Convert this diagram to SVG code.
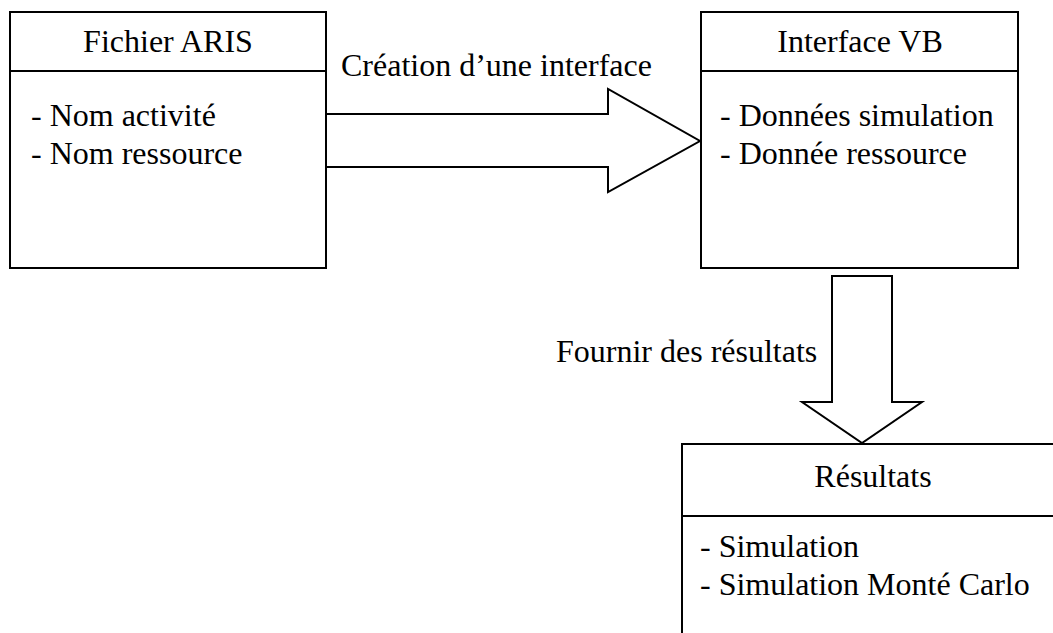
<svg xmlns="http://www.w3.org/2000/svg" width="1053" height="633" viewBox="0 0 1053 633">
<style>
.box{fill:#fff;stroke:#000;stroke-width:2}
.ln{stroke:#000;stroke-width:2;fill:none}
.arr{fill:#fff;stroke:#000;stroke-width:2;stroke-linejoin:miter}
text{font-family:"Liberation Serif","Times New Roman",serif;font-size:32px;fill:#000}
.c{text-anchor:middle}
</style>
<rect width="1053" height="633" fill="#fff"/>
<g id="connectors">
<path class="arr" d="M326,114 H608 V89 L700,141 L608,192 V167 H326"/>
<path class="arr" d="M832,276 H892 V402 H922 L862,443 L802,402 H832 Z"/>
<text x="341" y="76">Création d’une interface</text>
<text x="556" y="362">Fournir des résultats</text>
</g>
<g id="fichier-aris">
<rect class="box" x="10" y="12" width="316" height="256"/>
<line class="ln" x1="10" y1="71" x2="326" y2="71"/>
<text class="c" x="168" y="52">Fichier ARIS</text>
<text x="31" y="126">- Nom activité</text>
<text x="31" y="164">- Nom ressource</text>
</g>
<g id="interface-vb">
<rect class="box" x="701" y="12" width="317" height="256"/>
<line class="ln" x1="701" y1="71" x2="1018" y2="71"/>
<text class="c" x="860" y="52">Interface VB</text>
<text x="720" y="126">- Données simulation</text>
<text x="720" y="164">- Donnée ressource</text>
</g>
<g id="resultats">
<rect class="box" x="682" y="444" width="390" height="260"/>
<line class="ln" x1="682" y1="516" x2="1072" y2="516"/>
<text class="c" x="873" y="487">Résultats</text>
<text x="700" y="557">- Simulation</text>
<text x="700" y="595">- Simulation Monté Carlo</text>
</g>
</svg>
